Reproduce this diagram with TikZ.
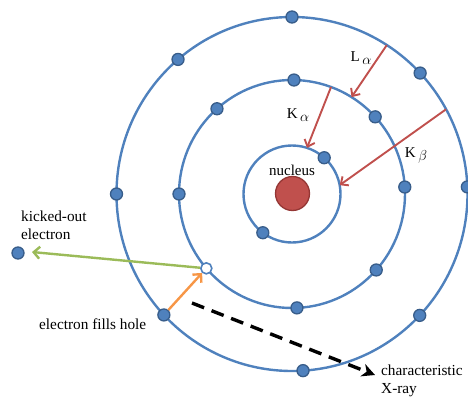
\documentclass[tikz,border=0pt]{standalone}
\usepackage{fontspec}
\setmainfont{Liberation Serif}
\usetikzlibrary{arrows.meta,calc}
\definecolor{orb}{HTML}{4F81BD}
\definecolor{orbdark}{HTML}{385D8A}
\definecolor{nuc}{HTML}{C0504D}
\definecolor{nucdark}{HTML}{943634}
\definecolor{grn}{HTML}{9BBB59}
\definecolor{org}{HTML}{F79646}
\definecolor{redarr}{HTML}{C0504D}
\newcommand{\lowgreek}[1]{\,\raisebox{-3pt}{\fontsize{14}{16}\selectfont$#1$}}
\begin{document}
\begin{tikzpicture}[x=1pt,y=-1pt,
  orbit/.style={draw=orb,line width=2.4pt},
  electron/.style={circle,fill=orb,draw=orbdark,line width=1.3pt,minimum size=12pt,inner sep=0pt},
  hole/.style={circle,fill=white,draw=orb,line width=1.6pt,minimum size=11pt,inner sep=0pt},
  trans/.style={draw=redarr,line width=1.9pt,-{Straight Barb[length=6pt,width=11pt]}},
  lbl/.style={font=\fontsize{15}{18}\selectfont,inner sep=0pt},
  txt/.style={font=\fontsize{15.3}{18}\selectfont,inner sep=0pt,align=left}
]
\useasboundingbox (0,0) rectangle (468,396);
\coordinate (c) at (292,194);
% orbits
\draw[orbit] (c) ellipse[x radius=48.5,y radius=48.5];
\draw[orbit] (c) ellipse[x radius=113,y radius=114];
\draw[orbit] (c) ellipse[x radius=175.5,y radius=177];
% nucleus
\node[circle,fill=nuc,draw=nucdark,line width=1.3pt,minimum size=34pt,inner sep=0pt] (nucleus) at (292.5,193.5) {};
\node[lbl] (nuclbl) at (292,170) {nucleus};
% inner electrons
\node[electron] (i1) at ($(c)+(-48.4:48.5)$) {};
\node[electron] (i2) at ($(c)+(127:48.5)$) {};
% middle electrons
\node[electron] (m1) at ($(c)+(-89:113 and 114)$) {};
\node[electron] (m2) at ($(c)+(-131.6:113 and 114)$) {};
\node[electron] (m3) at ($(c)+(-42.6:113 and 114)$) {};
\node[electron] (m4) at ($(c)+(180:113 and 114)$) {};
\node[electron] (m5) at ($(c)+(-3.5:113 and 114)$) {};
\node[electron] (m6) at ($(c)+(87.5:113 and 114)$) {};
\node[electron] (m7) at ($(c)+(41.8:113 and 114)$) {};
\node[hole] (hole) at ($(c)+(139.3:113 and 114)$) {};
% outer electrons
\node[electron] (o1) at ($(c)+(-90:175.5 and 177)$) {};
\node[electron] (o2) at ($(c)+(-130.5:175.5 and 177)$) {};
\node[electron] (o3) at ($(c)+(-43.1:175.5 and 177)$) {};
\node[electron] (o4) at ($(c)+(180:175.5 and 177)$) {};
\node[electron] (o5) at ($(c)+(-2.3:175.5 and 177)$) {};
\node[electron] (o6) at ($(c)+(136.9:175.5 and 177)$) {};
\node[electron] (o7) at ($(c)+(86.4:175.5 and 177)$) {};
\node[electron] (o8) at ($(c)+(43.3:175.5 and 177)$) {};
% kicked-out electron
\node[electron] (kick) at (18,253) {};
% transition coordinates
\coordinate (la0) at ($(c)+(-57.3:175.5 and 177)$);
\coordinate (la1) at ($(c)+(-58.2:113 and 114)$);
\coordinate (ka0) at ($(c)+(-69.8:113 and 114)$);
\coordinate (ka1) at ($(c)+(-72:48.5)$);
\coordinate (kb0) at ($(c)+(-28.6:175.5 and 177)$);
\coordinate (kb1) at ($(c)+(-10.5:48.5)$);
\draw[trans] (la0) -- (la1);
\draw[trans] (ka0) -- (ka1);
\draw[trans] (kb0) -- (kb1);
\node[lbl] (lalbl) at (361,58) {L\lowgreek{\alpha}};
\node[lbl] (kalbl) at (298,115) {K\lowgreek{\alpha}};
\node[lbl] (kblbl) at (416,155) {K\lowgreek{\beta}};
% kicked-out arrow
\coordinate (kicktip) at (32,252);
\draw[draw=grn,line width=2.4pt,-{Straight Barb[length=6pt,width=12pt]}] (hole) -- (kicktip);
% fill arrow
\draw[draw=org,line width=2.4pt,-{Straight Barb[length=6pt,width=12pt]}] (o6) -- (hole);
% x-ray
\coordinate (xr0) at (192,303);
\coordinate (xr1) at (375,375);
\draw[black,line width=3.4pt,dash pattern=on 13pt off 8pt,-{Stealth[length=13pt,width=13pt,inset=4pt]}] (xr0) -- (xr1);
% texts
\node[txt,anchor=west] (kicktxt) at (21,225) {kicked-out\\electron};
\node[txt,anchor=west] (filltxt) at (39,324) {electron fills hole};
\node[txt,anchor=west] (xraytxt) at (381,381) {characteristic\\X-ray};
\end{tikzpicture}
\end{document}
